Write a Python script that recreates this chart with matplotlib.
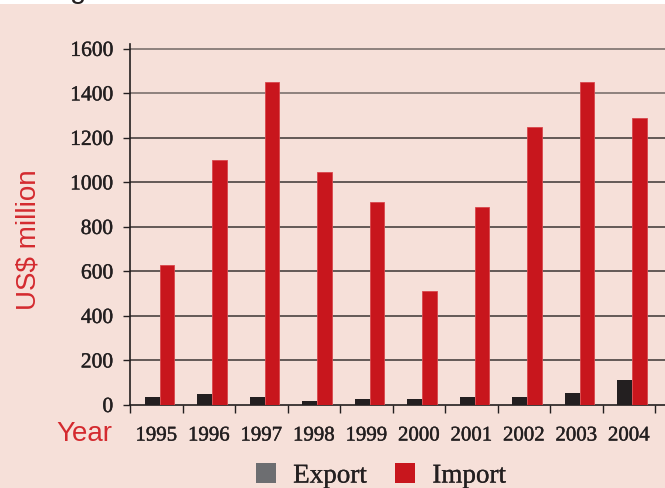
import matplotlib
matplotlib.use("Agg")
import matplotlib.pyplot as plt
import matplotlib.patheffects as pe
from matplotlib.patches import Patch, Rectangle
import numpy as np

# data
years = ["1995", "1996", "1997", "1998", "1999", "2000", "2001", "2002", "2003", "2004"]
export = [38, 50, 38, 20, 25, 25, 36, 36, 55, 112]
imports = [630, 1100, 1450, 1045, 910, 510, 890, 1250, 1450, 1290]
y_ticks = [0, 200, 400, 600, 800, 1000, 1200, 1400, 1600]

bg = "#F6E0D9"
red = "#C8161D"
dark = "#231F20"
gray_legend = "#6D6E71"
label_red = "#D42A2F"

serif = "Liberation Serif"
sans = "Liberation Sans"
heavier = [pe.withStroke(linewidth=0.3, foreground=dark)]

fig = plt.figure(figsize=(6.65, 4.88), dpi=100, facecolor=bg)
ax = fig.add_axes([130 / 665, 1 - 405 / 488, 1 - 130 / 665, (405 - 44) / 488])
ax.set_facecolor(bg)

x = np.arange(len(years))
w = 0.28
ax.bar(x - 0.075, export, width=w, color=dark, zorder=3)
ax.bar(x + 0.205, imports, width=w, color=red, edgecolor="#D9474C", linewidth=0.6, zorder=3)

ax.set_xlim(-0.5, -0.5 + 535 / 52.5)
ax.set_ylim(0, 1622)

# gridlines
for v in y_ticks[1:]:
    c = "#8E817D" if v >= 1400 else "#3B3433"
    lw = 1.4 if v >= 1400 else 1.1
    ax.axhline(v, color=c, linewidth=lw, zorder=1)

for s in ["top", "right"]:
    ax.spines[s].set_visible(False)
for s in ["left", "bottom"]:
    ax.spines[s].set_color(dark)
    ax.spines[s].set_linewidth(1.2)

ax.set_yticks(y_ticks)
ax.set_yticklabels([str(v) for v in y_ticks], fontfamily=serif, fontsize=15.5, color=dark)
ax.tick_params(axis="y", direction="out", length=5, width=1.0, color=dark, pad=7)

# boundaries get ticks, centers get the year labels
ax.set_xticks(np.arange(len(years) + 1) - 0.5)
ax.set_xticklabels([])
ax.set_xticks(x, minor=True)
ax.set_xticklabels(years, minor=True, fontfamily=serif, fontsize=15, color=dark)
ax.tick_params(axis="x", which="major", direction="out", length=5.5, width=1.0, color=dark)
ax.tick_params(axis="x", which="minor", length=0, pad=15.5)

for t in ax.get_yticklabels() + ax.get_xticklabels(minor=True):
    t.set_path_effects(heavier)

fig.text(29 / 665, 1 - 240 / 488, "US$ million", rotation=90, ha="center", va="center",
         fontfamily=sans, fontsize=20, color=label_red)
fig.text(112 / 665, 1 - 441 / 488, "Year", ha="right", va="baseline",
         fontfamily=sans, fontsize=20, color=label_red)

# cropped title remnant at the very top
fig.add_artist(Rectangle((0, 1 - 4 / 488), 1, 4 / 488, transform=fig.transFigure,
                         facecolor="white", edgecolor="none", zorder=0))
fig.text(70 / 665, 1 + 2 / 488, "g", ha="left", va="baseline",
         fontfamily=sans, fontsize=21, color=dark)

handles = [Patch(facecolor=gray_legend, edgecolor="none", label="Export"),
           Patch(facecolor=red, edgecolor="none", label="Import")]
leg = fig.legend(handles=handles, loc="center", bbox_to_anchor=(381 / 665, 1 - 476 / 488),
                 ncol=2, frameon=False, prop={"family": serif, "size": 19.5},
                 handlelength=0.72, handleheight=0.72, handletextpad=0.65,
                 columnspacing=1.05, labelcolor=dark, borderaxespad=0, borderpad=0)
for t in leg.get_texts():
    t.set_path_effects([pe.withStroke(linewidth=0.2, foreground=dark)])

fig.savefig("out.png", dpi=100, facecolor=bg)
